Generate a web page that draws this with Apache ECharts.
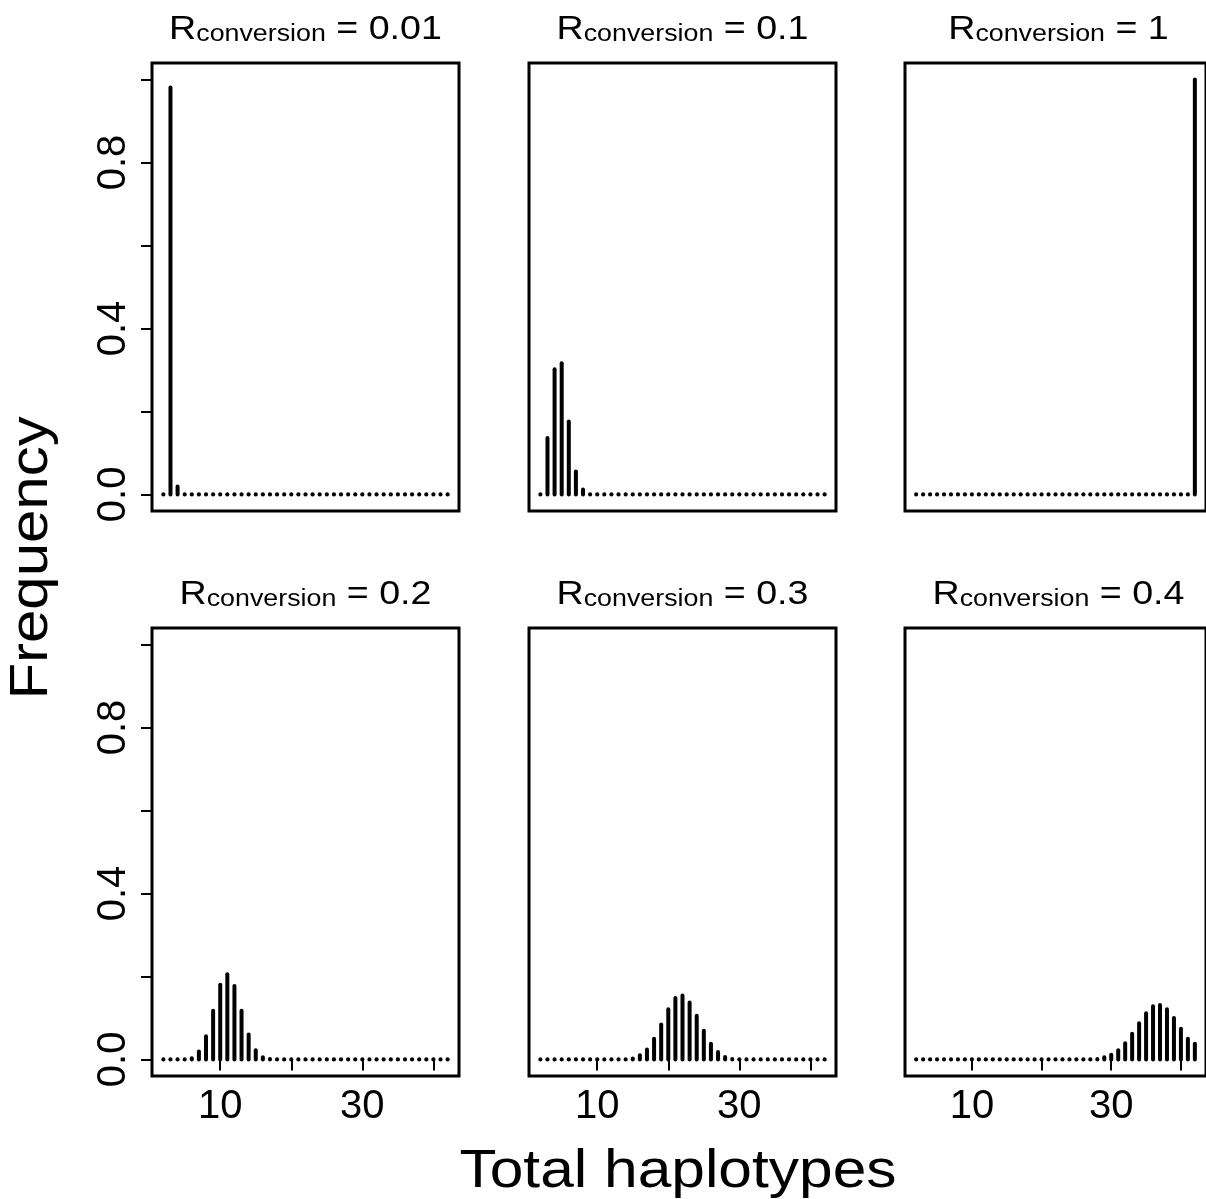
<!DOCTYPE html>
<html>
<head>
<meta charset="utf-8">
<script src="https://cdn.jsdelivr.net/npm/echarts@6/dist/echarts.min.js"></script>
<style>
html,body{margin:0;padding:0;background:#fff;}
#chart{width:1206px;height:1199px;}
</style>
</head>
<body>
<div id="chart"></div>
<script>
// ---- data ----
const totalHaplotypes = [2,3,4,5,6,7,8,9,10,11,12,13,14,15,16,17,18,19,20,21,22,23,24,25,26,27,28,29,30,31,32,33,34,35,36,37,38,39,40,41,42];
const panelLabels = ['0.01','0.1','1','0.2','0.3','0.4'];
const freq_001 = [0,0.981,0.019,0,0,0,0,0,0,0,0,0,0,0,0,0,0,0,0,0,0,0,0,0,0,0,0,0,0,0,0,0,0,0,0,0,0,0,0,0,0];
const freq_01  = [0,0.136,0.302,0.316,0.176,0.055,0.012,0,0,0,0,0,0,0,0,0,0,0,0,0,0,0,0,0,0,0,0,0,0,0,0,0,0,0,0,0,0,0,0,0,0];
const freq_1   = [0,0,0,0,0,0,0,0,0,0,0,0,0,0,0,0,0,0,0,0,0,0,0,0,0,0,0,0,0,0,0,0,0,0,0,0,0,0,0,0,1.0];
const freq_02  = [0,0,0,0,0.003,0.019,0.056,0.117,0.180,0.205,0.177,0.117,0.060,0.022,0.005,0.001,0,0,0,0,0,0,0,0,0,0,0,0,0,0,0,0,0,0,0,0,0,0,0,0,0];
const freq_03  = [0,0,0,0,0,0,0,0,0,0,0,0,0,0.002,0.010,0.024,0.050,0.084,0.121,0.148,0.154,0.137,0.105,0.069,0.038,0.018,0.006,0.001,0,0,0,0,0,0,0,0,0,0,0,0,0];
const freq_04  = [0,0,0,0,0,0,0,0,0,0,0,0,0,0,0,0,0,0,0,0,0,0,0,0,0,0,0.001,0.005,0.011,0.022,0.039,0.062,0.087,0.111,0.128,0.131,0.121,0.100,0.074,0.050,0.038];
const xTicks = [10,20,30,40];
const xTickLabels = [10,30];
const yTicks = [0,0.2,0.4,0.6,0.8,1.0];
const yTickLabels = [0,0.4,0.8];
const xTitle = 'Total haplotypes';
const yTitle = 'Frequency';
// ---------------

const panels = [freq_001, freq_01, freq_1, freq_02, freq_03, freq_04];
const FONT = '"Liberation Sans", Arial, Helvetica, sans-serif';
const colLeft = [152, 529, 905];
const rowTop = [63, 628];
const W = 307, H = 448;

const grids = [], xAxes = [], yAxes = [], series = [], graphics = [];
panels.forEach((vals, i) => {
  const r = Math.floor(i / 3), c = i % 3;
  grids.push({left: colLeft[c], top: rowTop[r], width: W, height: H, show: true,
    borderColor: '#000', borderWidth: 3, backgroundColor: 'transparent', containLabel: false});
  const showX = r === 1, showY = c === 0;
  xAxes.push({type: 'value', gridIndex: i, min: 0.4, max: 43.6,
    splitLine: {show: false}, axisLine: {show: false},
    axisTick: {show: showX, customValues: xTicks, length: 11, inside: false, lineStyle: {color: '#000', width: 2}},
    axisLabel: {show: showX, customValues: xTickLabels, margin: 11, color: '#000', fontSize: 40, fontFamily: FONT}
  });
  yAxes.push({type: 'value', gridIndex: i, min: -0.04, max: 1.04,
    splitLine: {show: false}, axisLine: {show: false},
    axisTick: {show: showY, customValues: yTicks, length: 11, lineStyle: {color: '#000', width: 2}},
    axisLabel: {show: showY, customValues: yTickLabels, rotate: 90, margin: 18, color: '#000', fontSize: 40, fontFamily: FONT,
      formatter: v => Number(v).toFixed(1)}
  });
  series.push({
    type: 'custom', xAxisIndex: i, yAxisIndex: i, clip: false,
    data: totalHaplotypes.map((x, k) => [x, vals[k]]),
    renderItem: function (params, api) {
      const x = api.value(0), y = api.value(1);
      const p0 = api.coord([x, 0]);
      if (!(y > 0)) {
        return {type: 'circle', shape: {cx: p0[0], cy: p0[1], r: 2.1}, style: {fill: '#000'}};
      }
      const p1 = api.coord([x, y]);
      return {type: 'line', shape: {x1: p0[0], y1: p0[1], x2: p1[0], y2: p1[1]},
        style: {stroke: '#000', lineWidth: 4, lineCap: 'round'}};
    }
  });
  // panel title: R_conversion = value
  graphics.push({
    type: 'text', x: colLeft[c] + W / 2, y: (r === 0 ? 46.5 : 611.5), scaleX: 1.14,
    style: {
      text: '{m|R}{s|conversion}{m| = ' + panelLabels[i] + '}',
      align: 'center', verticalAlign: 'bottom',
      rich: {
        m: {fontSize: 33, fontFamily: FONT, fill: '#000', lineHeight: 40, verticalAlign: 'bottom'},
        s: {fontSize: 23.5, fontFamily: FONT, fill: '#000', lineHeight: 21, verticalAlign: 'bottom'}
      }
    }
  });
});

graphics.push({type: 'text', x: 678, y: 1172, scaleX: 1.12,
  style: {text: xTitle, fontSize: 54, fontFamily: FONT, fill: '#000', align: 'center', verticalAlign: 'middle'}});
graphics.push({type: 'text', x: 32, y: 558, rotation: Math.PI / 2, scaleX: 1.11,
  style: {text: yTitle, fontSize: 54, fontFamily: FONT, fill: '#000', align: 'center', verticalAlign: 'middle'}});

const chart = echarts.init(document.getElementById('chart'), null, {renderer: 'canvas'});
chart.setOption({
  animation: false,
  backgroundColor: '#fff',
  grid: grids, xAxis: xAxes, yAxis: yAxes, series: series, graphic: graphics
});
</script>
</body>
</html>
